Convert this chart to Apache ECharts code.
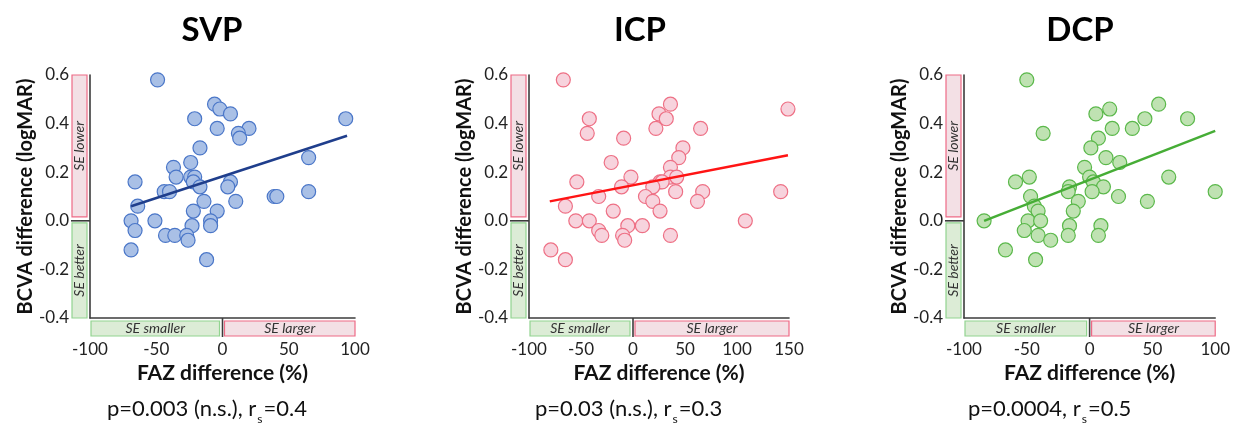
<!DOCTYPE html>
<html><head><meta charset="utf-8">
<script src="https://cdn.jsdelivr.net/npm/echarts@6/dist/echarts.min.js"></script>
<style>html,body{margin:0;padding:0;background:#fff}#c{width:1233px;height:426px}</style>
</head><body><div id="c"></div>
<script>
// ---------- data ----------
const panelTitles = ['SVP', 'ICP', 'DCP'];
const statMain = ['p=0.003 (n.s.), r', 'p=0.03 (n.s.), r', 'p=0.0004, r'];
const statTail = ['=0.4', '=0.3', '=0.5'];
const xRanges = [[-100, 100], [-100, 150], [-100, 100]];
const yRange = [-0.4, 0.6];
const xInterval = 50;
const yInterval = 0.2;
const xAxisName = 'FAZ difference (%)';
const yAxisName = 'BCVA difference (logMAR)';
const boxLabels = ['SE lower', 'SE better', 'SE smaller', 'SE larger'];

const svpX = [-49,-6,-2,6,-21,93,-4,20,12,13,-17,-24,-37,-66,-35,-24,-21,-22,-17,6,4,-44,-40,39,41,65,65,-14,10,-64,-4,-22,-69,-51,-9,-9,-23,-66,-43,-36,-27,-26,-69,-12];
const svpY = [0.58,0.48,0.46,0.44,0.42,0.42,0.38,0.38,0.36,0.34,0.30,0.24,0.22,0.16,0.18,0.18,0.18,0.16,0.14,0.16,0.14,0.12,0.12,0.10,0.10,0.12,0.26,0.08,0.08,0.06,0.04,0.04,0.0,0.0,0.0,-0.02,-0.02,-0.04,-0.06,-0.06,-0.06,-0.08,-0.12,-0.16];
const svpFitX = [-69, 94];
const svpFitY = [0.06, 0.35];

const icpX = [-67,36,149,25,-42,32,22,65,-44,-9,48,44,-21,36,-54,-2,36,42,26,28,-11,19,41,67,142,-33,12,19,62,-65,-19,26,-55,-42,108,-5,9,-33,-30,-10,36,-8,-79,-65];
const icpY = [0.58,0.48,0.46,0.44,0.42,0.42,0.38,0.38,0.36,0.34,0.30,0.26,0.24,0.22,0.16,0.18,0.18,0.18,0.16,0.16,0.14,0.14,0.12,0.12,0.12,0.10,0.10,0.08,0.08,0.06,0.04,0.04,0.0,0.0,0.0,-0.02,-0.02,-0.04,-0.06,-0.06,-0.06,-0.08,-0.12,-0.16];
const icpFitX = [-80, 149];
const icpFitY = [0.08, 0.27];

const dcpX = [-50,55,16,5,44,78,18,34,-37,7,1,13,24,-4,-59,-48,0,3,63,-16,11,-17,2,100,-47,23,-9,46,-44,-41,-13,-84,-49,-39,-16,9,-52,-41,-17,7,-31,-67,-43];
const dcpY = [0.58,0.48,0.46,0.44,0.42,0.42,0.38,0.38,0.36,0.34,0.30,0.26,0.24,0.22,0.16,0.18,0.18,0.16,0.18,0.14,0.14,0.12,0.12,0.12,0.10,0.10,0.08,0.08,0.06,0.04,0.04,0.0,0.0,0.0,-0.02,-0.02,-0.04,-0.06,-0.06,-0.06,-0.08,-0.12,-0.16];
const dcpFitX = [-84, 100];
const dcpFitY = [0.0, 0.37];

// ---------- styling / layout ----------
const FONT = 'Lato, "Open Sans", "Noto Sans", sans-serif';
const grids = [
  {left: 90, top: 75, width: 265, height: 243},
  {left: 529, top: 75, width: 260, height: 243},
  {left: 964, top: 75, width: 253, height: 243}
];
const titlePos = [[212, 30], [640, 30], [1080, 30]];
const statPos = [[107, 398], [535, 398], [968, 398]];
const styles = [
  {fill: '#a9c0e6', border: '#4a76c8', line: '#1f3e8c'},
  {fill: '#f7d3dd', border: '#ee7085', line: '#ff1414'},
  {fill: '#bfe2b2', border: '#5ab84a', line: '#46ad36'}
];
const PINK = {fill: '#f3e0e5', stroke: '#ee6a86'};
const GREEN = {fill: '#dcecd6', stroke: '#92d490'};
const AXIS_COLOR = '#3c3c3c';

const sets = [[svpX, svpY, svpFitX, svpFitY], [icpX, icpY, icpFitX, icpFitY], [dcpX, dcpY, dcpFitX, dcpFitY]];

const xAxes = [], yAxes = [], series = [];
sets.forEach((s, i) => {
  xAxes.push({
    gridIndex: i, type: 'value', min: xRanges[i][0], max: xRanges[i][1], interval: xInterval,
    name: xAxisName, nameLocation: 'middle', nameGap: 42,
    nameTextStyle: {fontFamily: FONT, fontWeight: 'bold', fontSize: 21, color: '#111'},
    axisLine: {show: true, onZero: false, lineStyle: {color: AXIS_COLOR, width: 1.6}},
    axisTick: {show: false}, splitLine: {show: false},
    axisLabel: {margin: 23, fontFamily: FONT, fontSize: 17, color: '#222'}
  });
  yAxes.push({
    gridIndex: i, type: 'value', min: yRange[0], max: yRange[1], interval: yInterval,
    name: yAxisName, nameLocation: 'middle', nameGap: 52,
    nameTextStyle: {fontFamily: FONT, fontWeight: 'bold', fontSize: 20, color: '#111'},
    axisLine: {show: true, onZero: false, lineStyle: {color: AXIS_COLOR, width: 1.6}},
    axisTick: {show: false}, splitLine: {show: false},
    axisLabel: {margin: 21, fontFamily: FONT, fontSize: 17, color: '#222', formatter: v => v.toFixed(1)}
  });
  series.push({
    type: 'scatter', xAxisIndex: i, yAxisIndex: i, symbolSize: 14, z: 2,
    itemStyle: {color: styles[i].fill, borderColor: styles[i].border, borderWidth: 1.2, opacity: 1},
    data: s[0].map((x, k) => [x, s[1][k]])
  });
  series.push({
    type: 'line', xAxisIndex: i, yAxisIndex: i, showSymbol: false, symbol: 'none', z: 3, silent: true,
    lineStyle: {color: styles[i].line, width: 2.5},
    data: s[2].map((x, k) => [x, s[3][k]])
  });
});

const chart = echarts.init(document.getElementById('c'), null, {renderer: 'canvas'});
chart.setOption({
  backgroundColor: '#fff',
  animation: false,
  grid: grids,
  xAxis: xAxes,
  yAxis: yAxes,
  series: series
});

// ---------- annotations (positions derived from axes) ----------
const graphics = [];
const BOXFONT = 'italic 14px ' + FONT;
function box(x1, y1, x2, y2, col, label, vertical) {
  graphics.push({type: 'rect', shape: {x: x1, y: y1, width: x2 - x1, height: y2 - y1},
    style: {fill: col.fill, stroke: col.stroke, lineWidth: 1.2}, z: 1});
  graphics.push({type: 'text', x: (x1 + x2) / 2, y: (y1 + y2) / 2, rotation: vertical ? Math.PI / 2 : 0,
    style: {text: label, font: BOXFONT, fill: '#333', align: 'center', verticalAlign: 'middle'}, z: 2});
}
grids.forEach((g, i) => {
  const p0 = chart.convertToPixel({gridIndex: i}, [0, 0]);
  const pTL = chart.convertToPixel({gridIndex: i}, [xRanges[i][0], yRange[1]]);
  const pBR = chart.convertToPixel({gridIndex: i}, [xRanges[i][1], yRange[0]]);
  const L = pTL[0], T = pTL[1], R = pBR[0], B = pBR[1];
  const x0 = p0[0], y0 = p0[1];
  box(L - 18, T, L - 3, y0 - 4, PINK, boxLabels[0], true);
  box(L - 18, y0 + 2, L - 3, B, GREEN, boxLabels[1], true);
  box(L + 1, B + 3, x0 - 3, B + 18, GREEN, boxLabels[2], false);
  box(x0 + 2, B + 3, R, B + 18, PINK, boxLabels[3], false);
  graphics.push({type: 'line', shape: {x1: L - 19, y1: y0, x2: L, y2: y0}, style: {stroke: AXIS_COLOR, lineWidth: 1.6}, z: 3});
  graphics.push({type: 'line', shape: {x1: x0, y1: B, x2: x0, y2: B + 19}, style: {stroke: AXIS_COLOR, lineWidth: 1.6}, z: 3});
  graphics.push({type: 'text', x: titlePos[i][0], y: titlePos[i][1],
    style: {text: panelTitles[i], font: 'bold 33px ' + FONT, fill: '#000', align: 'center', verticalAlign: 'middle'}});
  graphics.push({type: 'text', x: statPos[i][0], y: statPos[i][1],
    style: {
      text: '{m|' + statMain[i] + '}{s|s}{m|' + statTail[i] + '}',
      align: 'left', verticalAlign: 'top',
      rich: {
        m: {fontFamily: FONT, fontSize: 22, lineHeight: 22, verticalAlign: 'top', fill: '#111', color: '#111'},
        s: {fontFamily: FONT, fontSize: 12, lineHeight: 12, padding: [15, 1, 0, 1], verticalAlign: 'top', fill: '#111', color: '#111'}
      }
    }});
});
chart.setOption({graphic: {elements: graphics}});
</script>
</body></html>
